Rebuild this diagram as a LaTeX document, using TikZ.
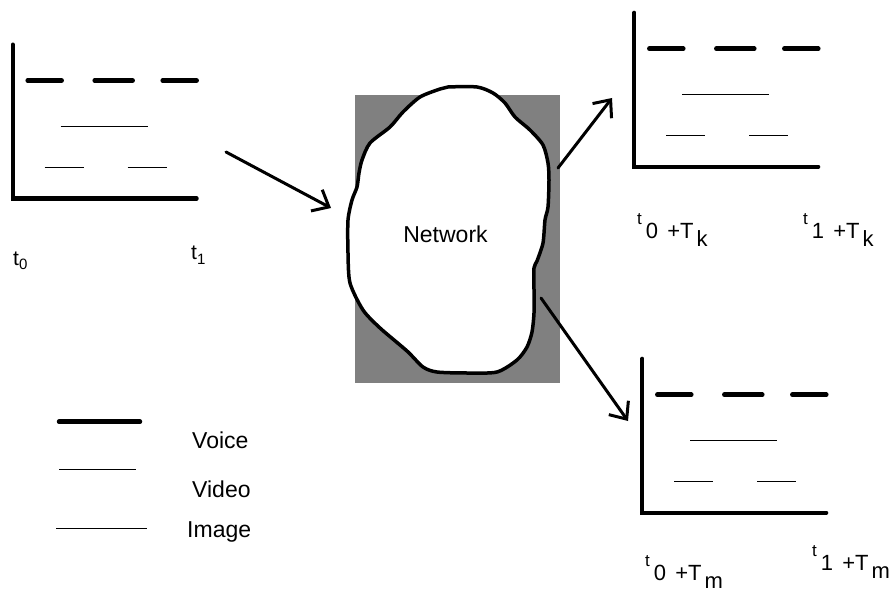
\documentclass[tikz,border=0pt]{standalone}
\usepackage{fontspec}
\setmainfont{Liberation Sans}
\usetikzlibrary{arrows.meta}

\tikzset{
  axis/.style={line width=4pt, line cap=round},
  voice/.style={line width=4.5pt, line cap=round},
  video/.style={line width=1.4pt},
  image/.style={line width=1.4pt},
  flow/.style={line width=3pt, line cap=round,
    -{Straight Barb[length=14pt,width=24pt,line width=3pt]}},
  lbl/.style={inner sep=0pt, anchor=base west, font=\fontsize{21}{24}\selectfont},
  dly/.style={inner sep=0pt, anchor=base west, font=\fontsize{22}{26}\selectfont},
  txt/.style={inner sep=0pt, anchor=base west, font=\fontsize{23}{27}\selectfont},
  % one buffer chart: axes plus the three traffic rows
  pics/queue/.style={code={
    \draw[axis] (0,-154) -- (0,0) -- (184,0);
    \draw[voice] (15,-118) -- (49,-118) (82,-118) -- (120,-118) (150,-118) -- (184,-118);
    \draw[video] (48,-72) -- (135,-72);
    \draw[image] (32,-31) -- (71,-31) (115,-31) -- (154,-31);
  }}
}

% delayed time stamp: raised t, index, +T and a lowered path letter
\newcommand{\shifted}[3]{\raisebox{14pt}{\fontsize{17}{17}\selectfont #1}\hspace{4pt}#2 \hspace{3pt}+T\hspace{3pt}\raisebox{-8pt}{#3}}

\begin{document}
\begin{tikzpicture}[x=1pt, y=-1pt]
  \useasboundingbox (0,0) rectangle (892,591);

  % sender side
  \pic at (12.7,198.5) {queue};
  \node[lbl] (s0) at (13,265) {t\raisebox{-5pt}{\fontsize{15}{15}\selectfont 0}};
  \node[lbl] (s1) at (191,259) {t\raisebox{-5pt}{\fontsize{15}{15}\selectfont 1}};

  % network cloud
  \fill[black!50] (355,95) rectangle (560,383);
  \draw[line width=3.5pt, fill=white, line join=round]
    plot[smooth cycle, tension=0.45] coordinates {
      (420,97) (440,89) (448,87) (477,87) (493,93) (505,103) (515,117)
      (530,130) (543,145) (548,163) (549,180) (548,207) (545,220)
      (543,243) (537,261) (534,268) (534,290) (534,313) (532,332)
      (527,347) (517,360) (497,372) (467,373) (437,372) (423,367)
      (407,351) (380,328) (363,310) (350,283) (348,253) (348,220)
      (352,200) (357,187) (359,173) (362,160) (370,143) (390,127) (403,112)};
  \node[txt, anchor=base] (net) at (445.5,242) {Network};

  % receiver k
  \pic at (634.3,166.7) {queue};
  \node[dly] (k0) at (637,238) {\shifted{t}{0}{k}};
  \node[dly] (k1) at (803,238) {\shifted{t}{1}{k}};

  % receiver m
  \pic at (642.3,512.7) {queue};
  \node[dly] (m0) at (645,580) {\shifted{t}{0}{m}};
  \node[dly] (m1) at (812,570) {\shifted{t}{1}{m}};

  % flows through the network
  \coordinate (inA) at (226,152);
  \coordinate (inB) at (331,208);
  \coordinate (kA) at (558,168);
  \coordinate (kB) at (612,98);
  \coordinate (mA) at (541,298);
  \coordinate (mB) at (628,421);
  \draw[flow] (inA) -- (inB);
  \draw[flow] (kA) -- (kB);
  \draw[flow] (mA) -- (mB);

  % legend
  \draw[voice] (59,421.7) -- (140,421.7);
  \draw[video] (59,469.3) -- (136,469.3);
  \draw[image] (56,528.3) -- (147,528.3);
  \node[txt] (lv) at (192,448) {Voice};
  \node[txt] (ld) at (192,497) {Video};
  \node[txt] (li) at (187,537) {Image};
\end{tikzpicture}
\end{document}
